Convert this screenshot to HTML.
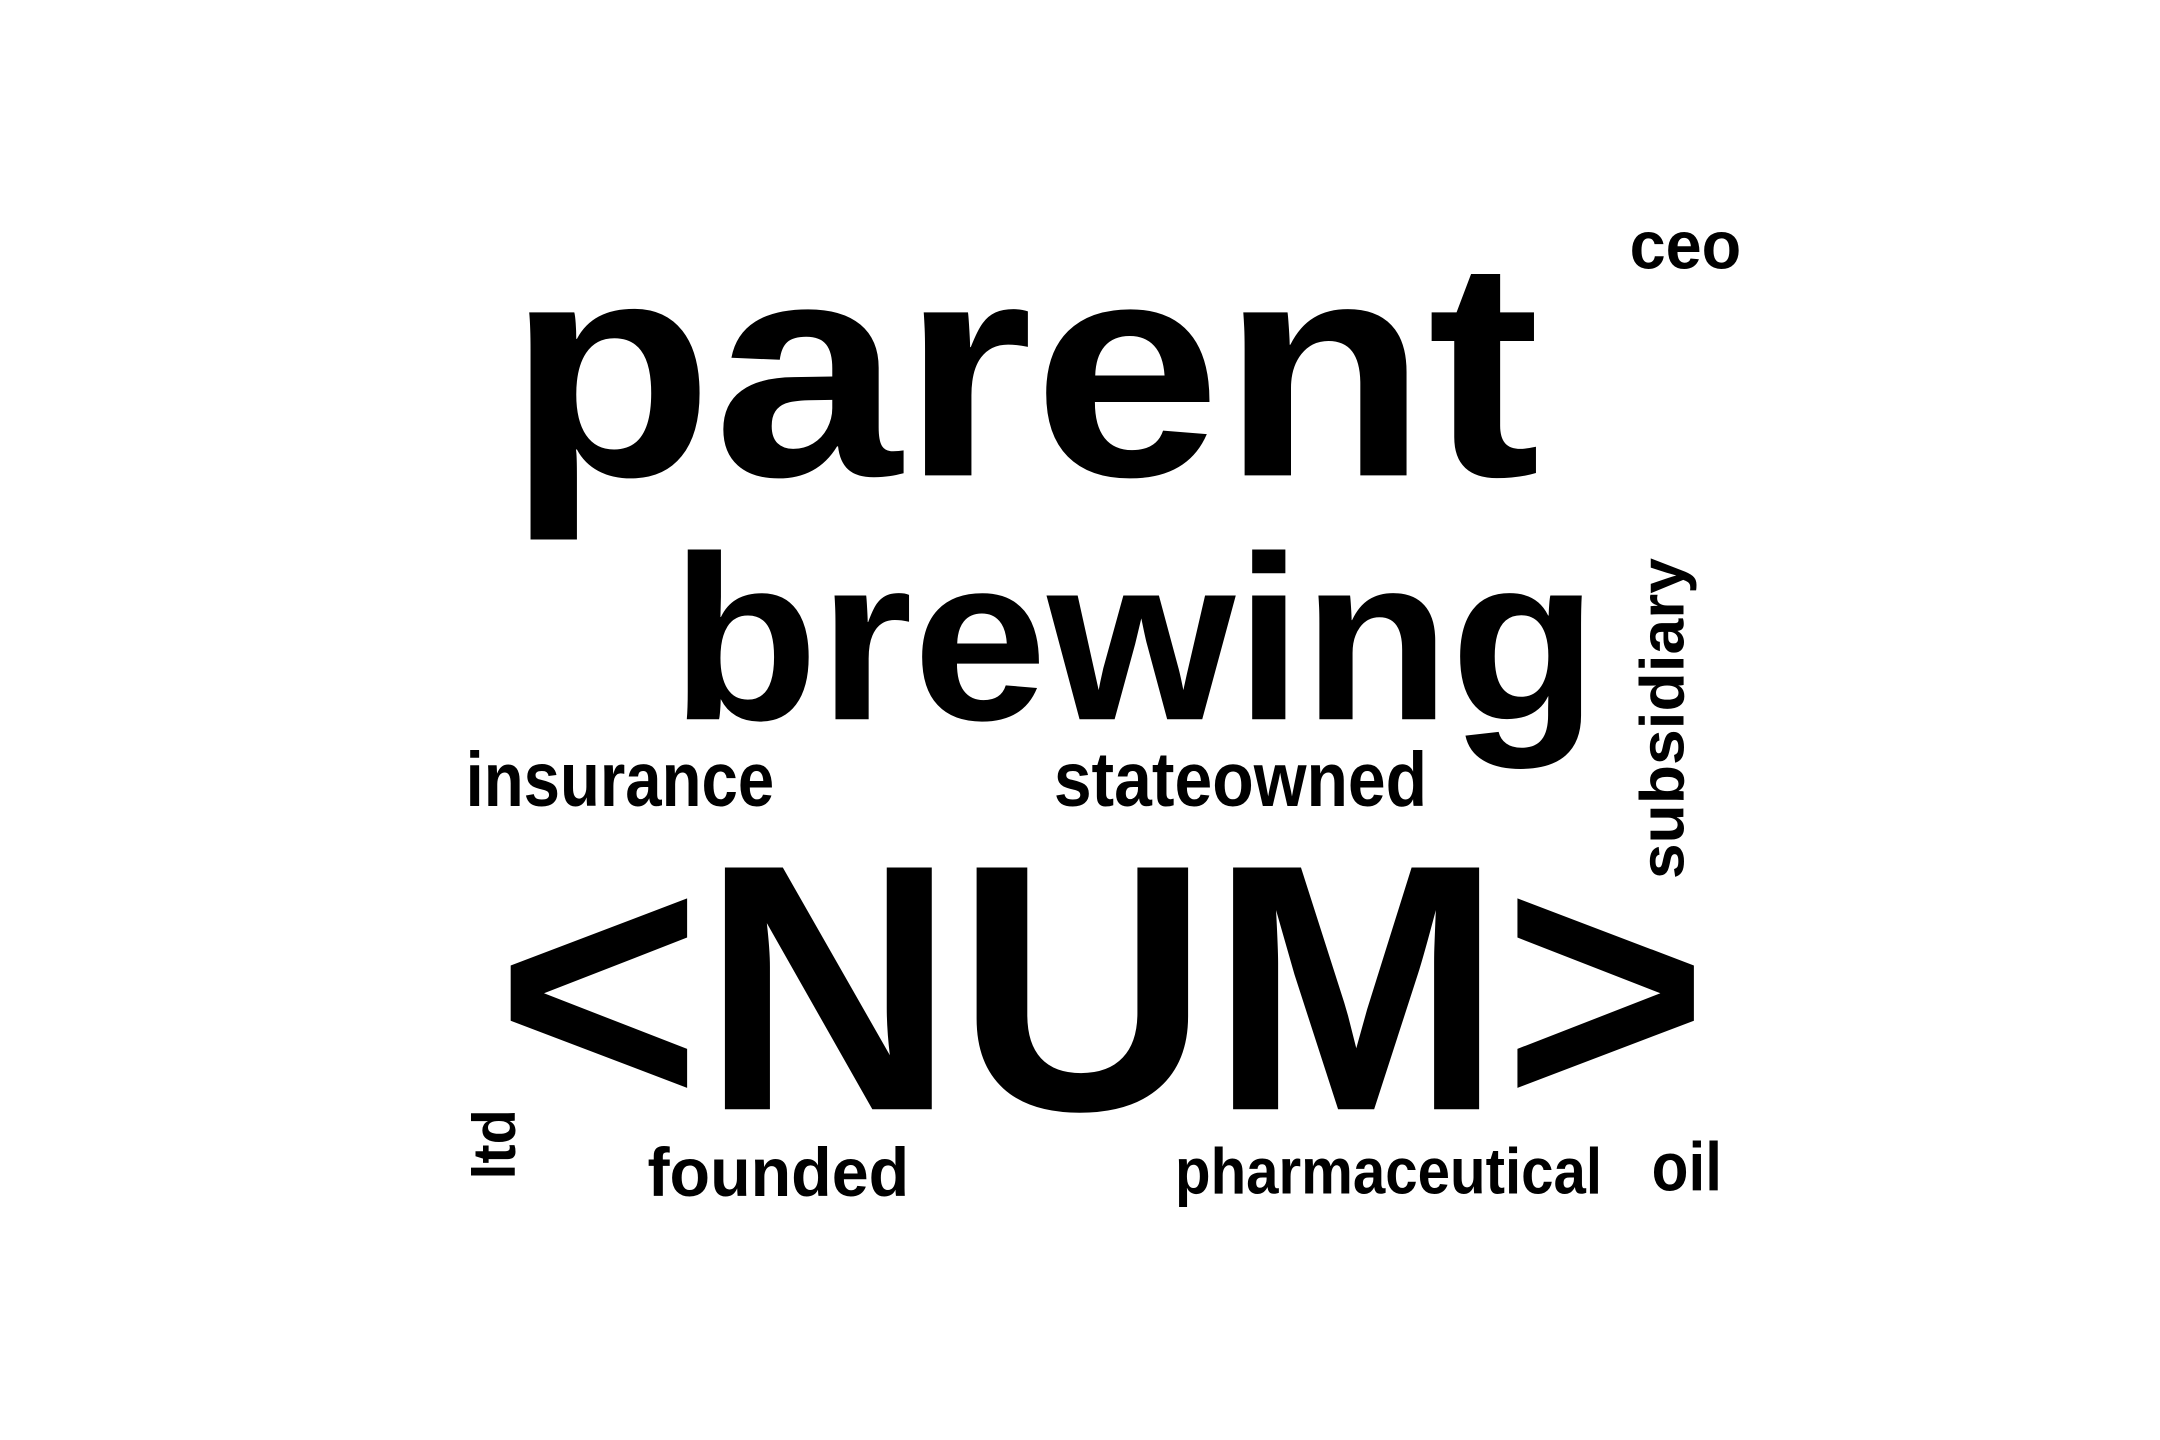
<!DOCTYPE html>
<html><head><meta charset="utf-8"><style>
html,body{margin:0;padding:0;background:#fff;}
svg{display:block;}
text{font-family:"Liberation Sans",sans-serif;font-weight:bold;fill:#000;}
</style></head><body>
<svg width="2160" height="1440" viewBox="0 0 1568 1045" preserveAspectRatio="none" xmlns="http://www.w3.org/2000/svg">
<rect width="1568" height="1045" fill="#fff"/>
<text x="1183" y="195" font-size="49" textLength="81" lengthAdjust="spacingAndGlyphs">ceo</text>
<text x="368" y="345" font-size="224" textLength="750" lengthAdjust="spacingAndGlyphs">parent</text>
<text x="487" y="522" font-size="170" textLength="673" lengthAdjust="spacingAndGlyphs">brewing</text>
<text x="338" y="585" font-size="56" textLength="224" lengthAdjust="spacingAndGlyphs">insurance</text>
<text x="765" y="585" font-size="56" textLength="271" lengthAdjust="spacingAndGlyphs">stateowned</text>
<text transform="translate(1222,638) rotate(-90)" x="0" y="0" font-size="45" textLength="233" lengthAdjust="spacingAndGlyphs">subsidiary</text>
<text x="360" y="805" font-size="255" textLength="880" lengthAdjust="spacingAndGlyphs">&lt;NUM&gt;</text>
<text transform="translate(374,856) rotate(-90)" x="0" y="0" font-size="44" textLength="51" lengthAdjust="spacingAndGlyphs">ltd</text>
<text x="470" y="868" font-size="50" textLength="190" lengthAdjust="spacingAndGlyphs">founded</text>
<text x="853" y="866" font-size="47" textLength="310" lengthAdjust="spacingAndGlyphs">pharmaceutical</text>
<text x="1199" y="864" font-size="50" textLength="51" lengthAdjust="spacingAndGlyphs">oil</text>
</svg>
</body></html>
